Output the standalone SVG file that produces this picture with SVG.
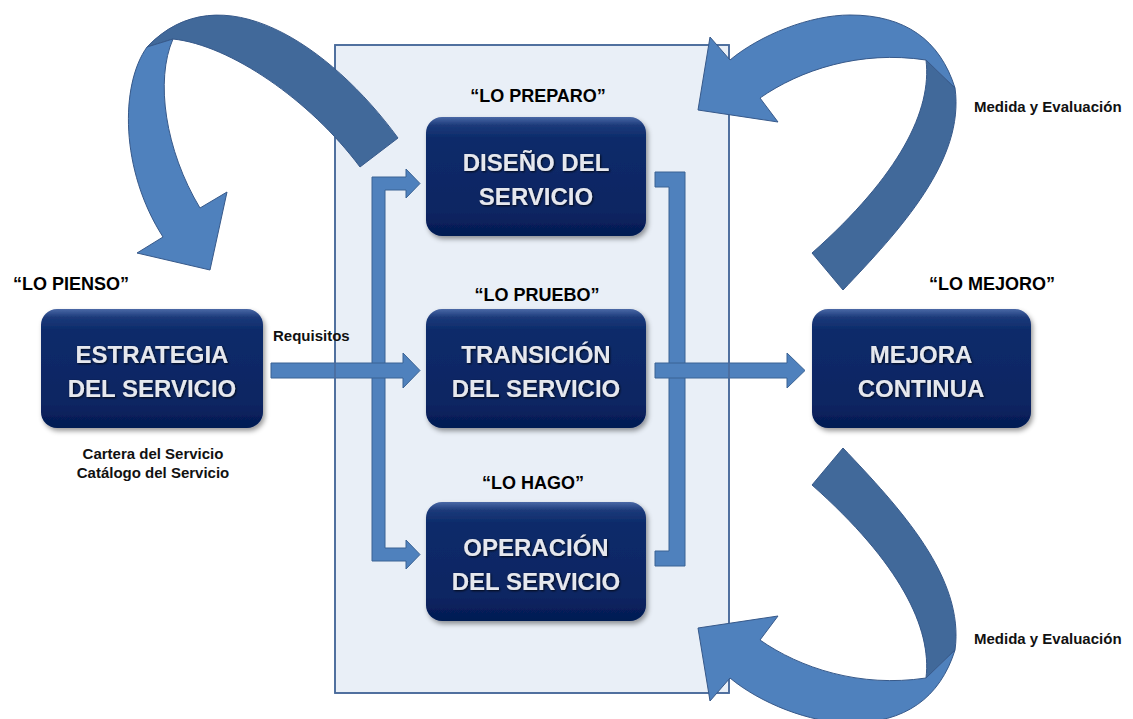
<svg xmlns="http://www.w3.org/2000/svg" width="1133" height="719" viewBox="0 0 1133 719">
<defs>
  <linearGradient id="boxGrad" x1="0" y1="0" x2="0" y2="1">
    <stop offset="0" stop-color="#4a68a6"/>
    <stop offset="0.07" stop-color="#1b3a7a"/>
    <stop offset="0.18" stop-color="#0d2b6a"/>
    <stop offset="0.8" stop-color="#0a2562"/>
    <stop offset="1" stop-color="#041a52"/>
  </linearGradient>
  <filter id="shadow" x="-10%" y="-10%" width="125%" height="130%">
    <feDropShadow dx="2" dy="3" stdDeviation="2.5" flood-color="#000" flood-opacity="0.4"/>
  </filter>
  <filter id="tshadow" x="-5%" y="-20%" width="110%" height="140%">
    <feDropShadow dx="1" dy="1" stdDeviation="0.8" flood-color="#000" flood-opacity="0.8"/>
  </filter>
  <style>
    .panel { fill: #e9eff7; stroke: #4a6b9c; stroke-width: 1.6; }
    .panelLine { fill: none; stroke: #4a6b9c; stroke-width: 1.6; }
    .box { fill: url(#boxGrad); filter: url(#shadow); }
    .btxt { font-family: "Liberation Sans", Arial, sans-serif; font-weight: bold; font-size: 24px; fill: #e6e8ee; text-anchor: middle; filter: url(#tshadow); }
    .lbl { font-family: "Liberation Sans", Arial, sans-serif; font-weight: bold; font-size: 18px; fill: #000; text-anchor: middle; }
    .small { font-family: "Liberation Sans", Arial, sans-serif; font-weight: bold; font-size: 15px; fill: #111; }
    .arrow { fill: #4f81bd; stroke: #3b6394; stroke-width: 1; }
    .cdark { fill: #41699a; stroke: #37598a; stroke-width: 1; }
    .clight { fill: #4f81bd; stroke: #37598a; stroke-width: 1; }
  </style>
</defs>

<rect id="panel" class="panel" x="335" y="45" width="394" height="648"/>

<g id="connectors">
  <polygon class="arrow" points="372,177 406,177 406,169 420,183.5 406,198 406,190 385,190 385,548 406,548 406,540 420,554.5 406,569 406,561 372,561"/>
  <polygon class="arrow" points="271,363 403,363 403,353 420,370.5 403,388 403,378 271,378"/>
  <polygon class="arrow" points="655,172 685,172 685,566 655,566 655,551 669,551 669,187 655,187"/>
  <polygon class="arrow" points="655,363 787,363 787,353 805,370.5 787,388 787,378 655,378"/>
  <rect class="panelLine" x="335" y="45" width="394" height="648"/>
  <g id="curve-top-left">
    <path class="cdark" d="M398,138 C330,45 220,-30 147,47 L173,39 C230,45 310,100 360,167 Z"/>
    <path class="clight" d="M147,47 C120,85 120,170 163,237 L137,253 L210,270 L227,192 L200,208 C165,150 155,80 173,39 Z"/>
  </g>
  <g id="curve-top-right">
    <path class="cdark" d="M843,290 C900,230 965,160 955,88 L926,60 C932,110 900,175 812,253 Z"/>
    <path class="clight" d="M955,88 C940,40 905,15 850,15 C810,15 760,35 730,60 L710,37 L698,110 L778,122 L760,98 C800,70 860,50 926,60 Z"/>
  </g>
  <g id="curve-bottom-right" transform="matrix(1 0 0 -1 0 738)">
    <path class="cdark" d="M843,290 C900,230 965,160 955,88 L926,60 C932,110 900,175 812,253 Z"/>
    <path class="clight" d="M955,88 C940,40 905,15 850,15 C810,15 760,35 730,60 L710,37 L698,110 L778,122 L760,98 C800,70 860,50 926,60 Z"/>
  </g>
</g>

<g id="estrategia">
  <rect class="box" x="41" y="309" width="222" height="119" rx="16"/>
  <text class="btxt" x="152" y="363">ESTRATEGIA</text>
  <text class="btxt" x="152" y="397">DEL SERVICIO</text>
</g>

<g id="diseno">
  <rect class="box" x="426" y="117" width="220" height="119" rx="16"/>
  <text class="btxt" x="536" y="171">DISEÑO DEL</text>
  <text class="btxt" x="536" y="205">SERVICIO</text>
</g>

<g id="transicion">
  <rect class="box" x="426" y="309" width="220" height="119" rx="16"/>
  <text class="btxt" x="536" y="363">TRANSICIÓN</text>
  <text class="btxt" x="536" y="397">DEL SERVICIO</text>
</g>

<g id="operacion">
  <rect class="box" x="426" y="502" width="220" height="119" rx="16"/>
  <text class="btxt" x="536" y="556">OPERACIÓN</text>
  <text class="btxt" x="536" y="590">DEL SERVICIO</text>
</g>

<g id="mejora">
  <rect class="box" x="812" y="309" width="219" height="119" rx="16"/>
  <text class="btxt" x="921" y="363">MEJORA</text>
  <text class="btxt" x="921" y="397">CONTINUA</text>
</g>

<g id="labels">
  <text class="lbl" x="71" y="290">“LO PIENSO”</text>
  <text class="lbl" x="538" y="102">“LO PREPARO”</text>
  <text class="lbl" x="537" y="301">“LO PRUEBO”</text>
  <text class="lbl" x="533" y="489">“LO HAGO”</text>
  <text class="lbl" x="992" y="290">“LO MEJORO”</text>
  <text class="small" x="273" y="341">Requisitos</text>
  <text class="small" x="153" y="459" text-anchor="middle">Cartera del Servicio</text>
  <text class="small" x="153" y="478" text-anchor="middle">Catálogo del Servicio</text>
  <text class="small" x="974" y="112">Medida y Evaluación</text>
  <text class="small" x="974" y="644">Medida y Evaluación</text>
</g>
</svg>
